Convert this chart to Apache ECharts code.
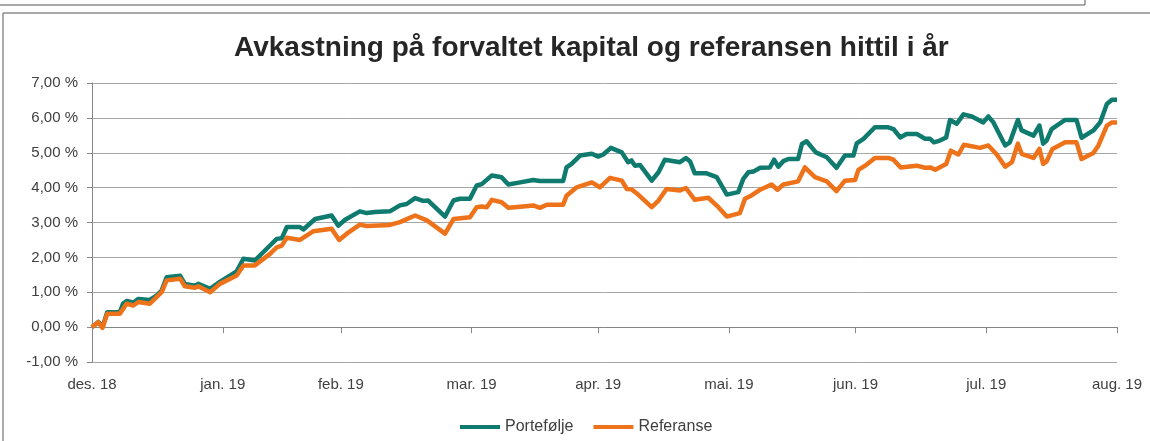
<!DOCTYPE html>
<html>
<head>
<meta charset="utf-8">
<script src="https://cdn.jsdelivr.net/npm/echarts@6/dist/echarts.min.js"></script>
<style>
  html, body { margin: 0; padding: 0; background: #fff; }
  #avkastning { width: 1150px; height: 441px; }
</style>
</head>
<body>
<div id="avkastning"></div>
<script>
// dager etter 31.12.2018 og verdier i prosent, lest av bildet
var porteDays = [0, 1.5, 2.5, 3.6, 6.6, 7.4, 8.3, 9.8, 11.0, 13.7, 15.3, 16.5, 17.7, 20.9, 22.0, 24.4, 25.2, 28.0, 30.3, 34.3,
    35.9, 38.6, 42.2, 43.8, 45.0, 46.2, 49.3, 50.1, 52.9, 56.8, 58.4, 60.0, 63.5, 65.1, 67.1, 70.6, 73.0, 74.6, 76.6, 78.5,
    79.7, 83.7, 85.7, 87.2, 89.6, 91.2, 92.4, 94.8, 97.1, 98.7, 101.5, 104.6, 106.2, 111.7, 112.5, 113.7, 115.7, 118.5, 120.0, 121.2,
    123.0, 125.6, 127.1, 127.9, 128.7, 129.9, 132.7, 134.3, 135.8, 139.4, 140.8, 141.8, 142.9, 145.7, 148.1, 150.5, 153.2, 154.4, 155.6, 156.8,
    158.4, 160.7, 161.7, 162.7, 163.9, 165.1, 167.4, 168.3, 169.4, 171.6, 174.2, 176.5, 178.5, 180.5, 181.3, 182.9, 185.6, 188.8, 190.0, 191.6,
    193.1, 195.5, 197.5, 198.7, 199.6, 201.0, 202.5, 203.4, 205.0, 206.6, 208.6, 211.3, 212.5, 213.7, 216.5, 217.6, 219.5, 220.4, 223.2, 224.6,
    225.5, 226.3, 227.5, 230.7, 233.4, 234.6, 237.4, 239.0, 240.6, 241.8, 243.0];
var porteValues = [0.00, 0.15, 0.00, 0.43, 0.43, 0.68, 0.75, 0.70, 0.81, 0.78, 0.90, 1.05, 1.43, 1.47, 1.24, 1.19, 1.24, 1.10, 1.30, 1.60,
    1.96, 1.91, 2.34, 2.53, 2.55, 2.87, 2.87, 2.80, 3.10, 3.20, 2.91, 3.08, 3.32, 3.27, 3.30, 3.32, 3.49, 3.53, 3.70, 3.62,
    3.63, 3.17, 3.63, 3.68, 3.68, 4.06, 4.10, 4.35, 4.30, 4.09, 4.15, 4.22, 4.19, 4.19, 4.58, 4.68, 4.92, 4.97, 4.89, 4.95,
    5.14, 5.01, 4.73, 4.78, 4.63, 4.65, 4.20, 4.44, 4.80, 4.73, 4.85, 4.75, 4.41, 4.41, 4.30, 3.80, 3.87, 4.25, 4.44, 4.46,
    4.57, 4.58, 4.80, 4.60, 4.76, 4.82, 4.82, 5.25, 5.33, 5.01, 4.87, 4.57, 4.92, 4.92, 5.27, 5.40, 5.73, 5.73, 5.68, 5.44,
    5.54, 5.54, 5.40, 5.40, 5.30, 5.35, 5.44, 5.94, 5.83, 6.10, 6.04, 5.87, 6.04, 5.87, 5.21, 5.30, 5.94, 5.64, 5.49, 5.78,
    5.26, 5.35, 5.68, 5.94, 5.94, 5.43, 5.64, 5.87, 6.40, 6.52, 6.52];

var refDays = [0, 1.5, 2.5, 3.6, 6.6, 8.2, 9.8, 11.0, 13.7, 15.3, 16.5, 17.7, 20.9, 22.0, 24.4, 25.2, 28.0, 30.3, 34.3, 35.9,
    38.6, 42.2, 43.8, 45.0, 46.2, 49.3, 52.5, 56.8, 58.6, 60.4, 63.5, 65.1, 70.6, 73.0, 76.6, 79.4, 83.7, 85.7, 89.6, 91.2,
    92.4, 93.6, 94.8, 97.1, 98.7, 101.5, 104.6, 106.2, 107.8, 111.7, 112.5, 114.9, 118.5, 120.4, 122.8, 125.6, 126.8, 127.9, 129.1, 132.7,
    134.3, 136.2, 139.4, 140.8, 142.9, 146.1, 148.5, 150.5, 153.6, 154.8, 156.0, 158.4, 161.1, 162.5, 163.9, 167.4, 169.0, 171.4, 174.2, 176.5,
    178.5, 180.9, 181.7, 183.3, 185.6, 188.8, 190.0, 191.7, 195.5, 197.5, 198.7, 199.9, 202.5, 203.6, 205.4, 206.7, 210.5, 212.5, 214.5, 216.5,
    218.1, 219.5, 220.4, 223.2, 224.6, 225.5, 226.3, 227.7, 230.7, 233.4, 234.6, 237.4, 238.6, 240.6, 241.8, 243.0];
var refValues = [0.00, 0.14, -0.02, 0.38, 0.38, 0.67, 0.62, 0.72, 0.67, 0.86, 1.00, 1.34, 1.39, 1.17, 1.13, 1.17, 1.00, 1.24, 1.48, 1.77,
    1.77, 2.10, 2.29, 2.34, 2.56, 2.50, 2.75, 2.82, 2.50, 2.68, 2.94, 2.90, 2.93, 3.01, 3.20, 3.06, 2.68, 3.10, 3.15, 3.44,
    3.46, 3.44, 3.65, 3.58, 3.42, 3.45, 3.49, 3.42, 3.51, 3.51, 3.77, 4.01, 4.15, 4.01, 4.28, 4.20, 3.96, 3.95, 3.84, 3.44,
    3.63, 3.96, 3.92, 3.99, 3.65, 3.71, 3.44, 3.17, 3.27, 3.68, 3.75, 3.94, 4.09, 3.94, 4.09, 4.18, 4.58, 4.30, 4.18, 3.90,
    4.20, 4.22, 4.51, 4.63, 4.85, 4.85, 4.80, 4.58, 4.63, 4.57, 4.58, 4.51, 4.68, 5.06, 4.95, 5.23, 5.14, 5.21, 4.95, 4.60,
    4.73, 5.26, 4.97, 4.85, 5.11, 4.68, 4.75, 5.11, 5.30, 5.30, 4.82, 4.99, 5.21, 5.78, 5.87, 5.87];

// månedsslutt som dager etter 31.12.2018
var monthTicks = [0, 31, 59, 90, 120, 151, 181, 212, 243];
var monthLabels = ['des. 18', 'jan. 19', 'feb. 19', 'mar. 19', 'apr. 19', 'mai. 19', 'jun. 19', 'jul. 19', 'aug. 19'];

var myChart = echarts.init(document.getElementById('avkastning'));

function pairs(days, vals) {
    var out = [];
    for (var i = 0; i < days.length; i++) {
        out.push([days[i], vals[i]]);
    }
    return out;
}

var font = 'Liberation Sans';
var option = {
    animation: false,
    title: {
        text: 'Avkastning på forvaltet kapital og referansen hittil i år',
        left: 229,
        top: 29,
        textStyle: { fontFamily: font, fontSize: 28, fontWeight: 'bold', color: '#262626' }
    },
    legend: {
        left: 455,
        top: 414,
        icon: 'rect',
        itemWidth: 40,
        itemHeight: 4,
        itemGap: 20,
        textStyle: { fontFamily: font, fontSize: 16, color: '#404040' },
        data: ['Portefølje', 'Referanse']
    },
    grid: { left: 92, right: 33, top: 83, bottom: 79 },
    xAxis: [{
        type: 'value',
        min: 0,
        max: 243,
        position: 'bottom',
        axisLine: { show: false, onZero: false },
        axisTick: { show: false },
        splitLine: { show: false },
        axisLabel: {
            customValues: monthTicks,
            margin: 15,
            fontFamily: font,
            fontSize: 15,
            color: '#404040',
            formatter: function (v) {
                var i = monthTicks.indexOf(v);
                return i >= 0 ? monthLabels[i] : '';
            }
        }
    }, {
        type: 'value',
        min: 0,
        max: 243,
        position: 'bottom',
        axisLine: { show: true, onZero: true, lineStyle: { color: '#868686', width: 1 } },
        axisTick: { show: true, customValues: monthTicks, length: 6, lineStyle: { color: '#868686' } },
        axisLabel: { show: false },
        splitLine: { show: false }
    }],
    yAxis: {
        type: 'value',
        min: -1,
        max: 7,
        interval: 1,
        axisLine: { show: true, lineStyle: { color: '#868686', width: 1 } },
        axisTick: { show: true, length: 5, lineStyle: { color: '#868686' } },
        splitLine: { lineStyle: { color: '#a6a6a6', width: 1 } },
        axisLabel: {
            margin: 14,
            fontFamily: font,
            fontSize: 15,
            color: '#404040',
            formatter: function (v) {
                return v.toFixed(2).replace('.', ',') + ' %';
            }
        }
    },
    series: [{
        name: 'Portefølje',
        type: 'line',
        xAxisIndex: 1,
        data: pairs(porteDays, porteValues),
        showSymbol: false,
        symbol: 'none',
        z: 3,
        itemStyle: { color: '#0f7a6e' },
        lineStyle: { color: '#0f7a6e', width: 4.5, join: 'round' }
    }, {
        name: 'Referanse',
        type: 'line',
        xAxisIndex: 1,
        data: pairs(refDays, refValues),
        showSymbol: false,
        symbol: 'none',
        z: 4,
        itemStyle: { color: '#ee7219' },
        lineStyle: { color: '#ee7219', width: 4.5, join: 'round' }
    }],
    graphic: [
        { type: 'line', shape: { x1: 0, y1: 5, x2: 1085, y2: 5 }, style: { stroke: '#8c8c8c', lineWidth: 1.5 } },
        { type: 'line', shape: { x1: 1085, y1: 0, x2: 1085, y2: 5 }, style: { stroke: '#8c8c8c', lineWidth: 1.5 } },
        { type: 'line', shape: { x1: 3, y1: 13, x2: 1150, y2: 13 }, style: { stroke: '#8c8c8c', lineWidth: 1.5 } },
        { type: 'line', shape: { x1: 3, y1: 13, x2: 3, y2: 441 }, style: { stroke: '#8c8c8c', lineWidth: 1.5 } }
    ]
};
myChart.setOption(option);
window.addEventListener('resize', function () { myChart.resize(); });
</script>
</body>
</html>
